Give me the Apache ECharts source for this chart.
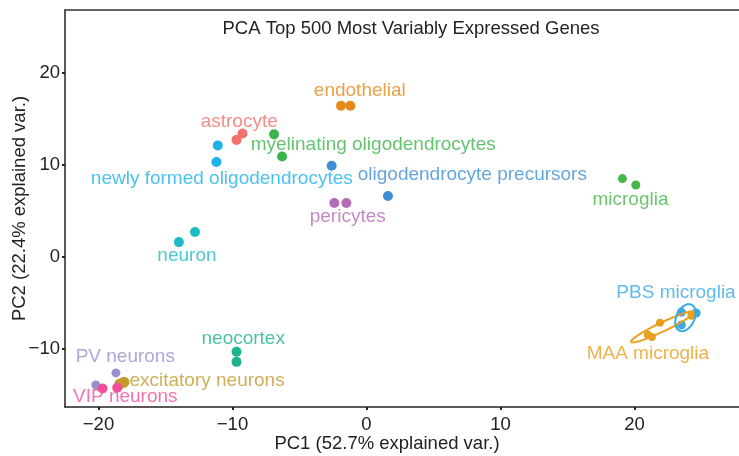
<!DOCTYPE html>
<html>
<head>
<meta charset="utf-8">
<script src="https://cdn.jsdelivr.net/npm/echarts@6/dist/echarts.min.js"></script>
<style>
  html, body { margin: 0; padding: 0; background: #fff; }
  #chart { width: 739px; height: 456px; }
</style>
</head>
<body>
<div id="chart"></div>
<script>
// cell types / sample groups
const groupNames = ['astrocyte', 'endothelial', 'myelinating oligodendrocytes', 'newly formed oligodendrocytes',
  'oligodendrocyte precursors', 'pericytes', 'microglia', 'neuron', 'neocortex', 'PV neurons',
  'excitatory neurons', 'VIP neurons', 'PBS microglia', 'MAA microglia']
const groupColors = ['#F4706A', '#E5891C', '#3DB44B', '#1DB2EA', '#3F8ED6', '#B46CB6', '#45B649',
  '#1DBBC6', '#1DB38C', '#9A8FD1', '#C49A2C', '#F0509A', '#3AA9E2', '#E8A01E']
// PC1 / PC2 per group
const pc1 = [[-9.7, -9.25], [-1.9, -1.2], [-6.9, -6.3], [-11.1, -11.2], [-2.6, 1.6], [-2.4, -1.5],
  [19.1, 20.1], [-14.0, -12.8], [-9.7, -9.7], [-18.7, -20.2], [-18.4, -18.1], [-19.7, -18.6],
  [23.5, 24.6, 23.5], [21.9, 21.0, 21.3, 24.25]]
const pc2 = [[12.7, 13.4], [16.4, 16.4], [13.3, 10.9], [12.1, 10.3], [9.9, 6.6], [5.85, 5.85],
  [8.5, 7.8], [1.6, 2.7], [-10.3, -11.4], [-12.6, -13.9], [-13.8, -13.6], [-14.3, -14.2],
  [-6.0, -6.1, -7.4], [-7.15, -8.45, -8.7, -6.4]]
const pointSizes = [10, 10, 10, 10, 10, 10, 9, 10, 10, 9, 11, 10, 9, 8]
// label anchors (data units)
const labelX = [-9.5, -0.5, 0.5, -10.8, 7.9, -1.4, 19.7, -13.4, -9.2, -18.0, -11.9, -18.0, 23.1, 21.0]
const labelY = [14.7, 18.0, 12.2, 8.45, 8.9, 4.4, 6.2, 0.1, -8.9, -10.8, -13.4, -15.2, -3.9, -10.5]
// ellipses: group index, centre, two half-axis vectors (data units)
const ellipseGroup = [13, 12]
const ellipseCenter = [[22.1, -7.6], [23.8, -6.6]]
const ellipseU = [[2.35, 1.63], [0.45, 1.41]]
const ellipseV = [[0.14, -0.44], [0.61, -0.41]]

const xTicks = [-20, -10, 0, 10, 20]
const yTicks = [-10, 0, 10, 20]

const font = '"Liberation Sans", Arial, sans-serif'
const minus = v => String(v).replace('-', '\u2212')
const chart = echarts.init(document.getElementById('chart'))

const series = []
groupNames.forEach((g, i) => {
  series.push({
    type: 'scatter',
    name: g,
    symbolSize: pointSizes[i],
    itemStyle: { color: groupColors[i], opacity: 1 },
    data: pc1[i].map((x, k) => [x, pc2[i][k]]),
    z: 3
  })
})
series.push({
  type: 'custom',
  name: 'ellipses',
  data: ellipseGroup.map((g, i) => [i]),
  renderItem: (params, api) => {
    const i = api.value(0)
    const pts = []
    for (let s = 0; s <= 72; s++) {
      const t = s / 72 * Math.PI * 2
      const x = ellipseCenter[i][0] + Math.cos(t) * ellipseU[i][0] + Math.sin(t) * ellipseV[i][0]
      const y = ellipseCenter[i][1] + Math.cos(t) * ellipseU[i][1] + Math.sin(t) * ellipseV[i][1]
      pts.push(api.coord([x, y]))
    }
    return {
      type: 'polyline',
      shape: { points: pts },
      style: { stroke: groupColors[ellipseGroup[i]], lineWidth: 2, fill: null }
    }
  },
  z: 4
})
series.push({
  type: 'scatter',
  name: 'labels',
  symbolSize: 0,
  silent: true,
  data: groupNames.map((g, i) => ({
    name: g,
    value: [labelX[i], labelY[i]],
    label: { color: groupColors[i] }
  })),
  label: {
    show: true,
    position: 'inside',
    formatter: p => p.name,
    fontSize: 19,
    fontFamily: font
  },
  z: 5
})

const option = {
  animation: false,
  backgroundColor: '#fff',
  title: {
    text: 'PCA Top 500 Most Variably Expressed Genes',
    left: 406,
    textAlign: 'center',
    top: 14,
    textStyle: { fontSize: 18.5, fontWeight: 'normal', color: '#222', fontFamily: font }
  },
  grid: { left: 65, right: 0, top: 10, bottom: 49, containLabel: false, outerBoundsMode: 'none' },
  xAxis: [
    {
      type: 'value',
      min: -22.5,
      max: 27.8,
      interval: 10,
      name: 'PC1 (52.7% explained var.)',
      nameLocation: 'middle',
      nameGap: 27,
      nameMoveOverlap: false,
      nameTextStyle: { fontSize: 18.5, color: '#222', fontFamily: font, padding: [0, 30, 0, 0] },
      axisLine: { show: true, onZero: false, lineStyle: { color: '#222', width: 1.5 } },
      axisTick: { show: true, length: 3, lineStyle: { color: '#222', width: 2 }, customValues: xTicks },
      axisLabel: { fontSize: 18.5, color: '#222', fontFamily: font, margin: 8, customValues: xTicks, formatter: minus },
      splitLine: { show: false }
    },
    {
      type: 'value',
      position: 'top',
      min: -22.5,
      max: 27.8,
      axisLine: { show: true, onZero: false, lineStyle: { color: '#333', width: 1.5 } },
      axisTick: { show: false },
      axisLabel: { show: false },
      splitLine: { show: false }
    }
  ],
  yAxis: {
    type: 'value',
    min: -16.3,
    max: 26.8,
    name: 'PC2 (22.4% explained var.)',
    nameLocation: 'middle',
    nameGap: 36,
    nameMoveOverlap: false,
    nameTextStyle: { fontSize: 18.5, color: '#222', fontFamily: font },
    axisLine: { show: true, onZero: false, lineStyle: { color: '#222', width: 1.5 } },
    axisTick: { show: true, length: 3, lineStyle: { color: '#222', width: 2 }, customValues: yTicks },
    axisLabel: { fontSize: 18.5, color: '#222', fontFamily: font, margin: 5, customValues: yTicks, formatter: minus },
    splitLine: { show: false }
  },
  series: series
}
chart.setOption(option)
</script>
</body>
</html>
